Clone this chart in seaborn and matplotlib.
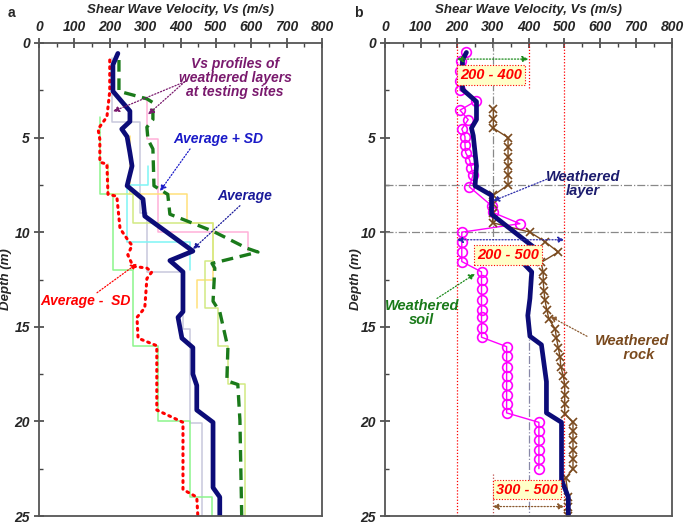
import numpy as np
import matplotlib
matplotlib.use("Agg")
import matplotlib.pyplot as plt
import seaborn as sns

# ---------------- panel a data ----------------
avg_a_vs = [223, 209, 209, 257, 257, 234, 249, 257, 263, 249, 294, 299, 435, 370, 407, 407,
            393, 404, 435, 435, 446, 446, 492, 492, 511, 511]
avg_a_d = [0.55, 1.15, 2.55, 3.6, 4.15, 4.55, 4.95, 5.8, 6.5, 7.55, 8.25, 9.15, 11.0, 11.5,
           12.1, 14.2, 14.5, 15.6, 16.1, 17.5, 18.1, 19.4, 20.05, 23.5, 24.0, 25.0]

plus_vs = [226, 226, 305, 322, 322, 305, 308, 322, 325, 364, 370, 492, 588, 619, 489, 497,
           492, 511, 534, 531, 562, 568, 573]
plus_d = [0.9, 2.55, 2.95, 3.15, 4.05, 4.45, 5.1, 5.6, 7.55, 8.0, 9.05, 9.95, 10.85, 11.05,
          11.65, 11.9, 13.65, 14.2, 16.1, 17.85, 18.05, 19.95, 25.0]

minus_vs = [200, 200, 192, 167, 172, 172, 192, 195, 220, 229, 249, 263, 251, 266, 305, 319,
            305, 299, 277, 280, 333, 333, 407, 407, 446, 449]
minus_d = [0.9, 2.55, 3.9, 4.55, 5.1, 6.3, 6.4, 8.0, 8.1, 9.8, 10.35, 10.7, 11.2, 11.8, 11.9,
           12.1, 12.45, 14.0, 14.5, 15.6, 16.0, 19.4, 20.05, 23.6, 24.0, 25.0]

# thin site profiles: layer tops, layer velocities, last bottom
site_colors = ["#c8c8dc", "#ffb0d8", "#ffe07a", "#7ff5f5", "#8cf58c", "#d2ea82"]
site_tops = [
    [0.8, 4.2, 9.0, 12.1, 15.1, 20.1],
    [3.0, 5.1, 10.0],
    [4.9, 8.0, 9.5, 12.5],
    [6.5, 7.5, 10.5],
    [3.9, 8.0, 12.0, 16.0, 20.0, 24.0],
    [6.4, 8.0, 9.5, 11.5, 14.0, 16.0, 18.0],
]
site_vs = [
    [206, 285, 305, 407, 427, 460],
    [305, 336, 590],
    [257, 418, 492, 446],
    [308, 249, 427],
    [172, 209, 266, 336, 427, 489],
    [195, 266, 492, 469, 506, 534, 582],
]
site_bottom = [25.0, 11.0, 14.0, 12.0, 25.0, 25.0]

# ---------------- panel b data ----------------
soil_vs = [227, 211, 209, 209, 209, 255, 209, 232, 214, 223, 223, 225, 236, 241, 245, 235,
           297, 300, 376, 214, 214, 214, 214, 269, 269, 269, 269, 269, 269, 269, 269,
           339, 339, 339, 339, 339, 339, 339, 339, 429, 429, 429, 429, 429, 429]
soil_d = [0.5, 0.95, 1.5, 2.0, 2.5, 3.05, 3.55, 4.05, 4.55, 4.95, 5.4, 5.8, 6.2, 6.6, 7.0, 7.6,
          8.6, 8.95, 9.55, 10.0, 10.5, 11.05, 11.55, 12.1, 12.5, 13.0, 13.6, 14.1, 14.5, 15.05, 15.55,
          16.05, 16.55, 17.1, 17.6, 18.05, 18.6, 19.1, 19.55, 20.05, 20.5, 21.0, 21.5, 22.0, 22.5]

rock_vs = [302, 302, 302, 343, 343, 343, 343, 343, 343, 302, 300, 300, 300, 404, 446, 483,
           435, 441, 441, 443, 446, 451, 457, 474, 478, 483, 488, 490, 497, 501, 501, 501, 501,
           524, 524, 524, 524, 524, 524, 504, 511, 511, 511]
rock_d = [3.5, 4.0, 4.5, 5.0, 5.5, 6.0, 6.5, 7.0, 7.5, 8.05, 8.5, 9.0, 9.5, 10.0, 10.5, 11.05,
          11.6, 12.1, 12.6, 13.1, 13.6, 14.1, 14.6, 15.1, 15.6, 16.1, 16.6, 17.1, 17.6, 18.05, 18.6,
          19.1, 19.6, 20.05, 20.5, 21.0, 21.5, 22.0, 22.5, 23.0, 24.0, 24.5, 25.0]

avg_b_vs = [227, 216, 216, 255, 255, 241, 246, 255, 251, 297, 297, 432, 381, 409, 404, 398,
            404, 436, 450, 450, 492, 492, 511, 511]
avg_b_d = [0.5, 0.9, 2.45, 3.1, 4.05, 4.5, 4.9, 6.5, 7.55, 8.05, 9.05, 11.05, 11.55, 12.1,
           13.5, 14.4, 15.5, 15.95, 17.9, 19.55, 20.05, 23.1, 24.0, 25.0]

range_labels = ["200 - 400", "200 - 500", "300 - 500"]
range_lo = [200, 200, 300]
range_hi = [400, 500, 500]
range_arrow_d = [0.85, 10.4, 24.5]
range_label_pos = [(295, 1.68), (343, 11.2), (396, 23.6)]
range_colors = ["#1a8a1a", "#2a2aa8", "#8a5a30"]

x_ticks = [0, 100, 200, 300, 400, 500, 600, 700, 800]
y_ticks = [0, 5, 10, 15, 20, 25]

# ---------------- style ----------------
sns.set_style("white")
plt.rcParams["font.family"] = ["Liberation Sans", "DejaVu Sans"]
plt.rcParams["font.weight"] = "bold"
plt.rcParams["font.style"] = "italic"

fig = plt.figure(figsize=(6.85, 5.25), dpi=100)
ax_a = fig.add_axes([39 / 685, 1 - 516 / 525, 283 / 685, 473 / 525])
ax_b = fig.add_axes([385 / 685, 1 - 516 / 525, 287 / 685, 473 / 525])

NAVY = "#0c0c78"
PURPLE = "#7a1a6e"


def setup(ax, ylab_x):
    ax.set_xlim(0, 800)
    ax.set_ylim(25, 0)
    ax.xaxis.set_label_position("top")
    ax.xaxis.tick_top()
    ax.set_xticks(x_ticks)
    ax.set_xticks(np.arange(0, 801, 50), minor=True)
    ax.set_yticks(y_ticks)
    ax.set_yticks(np.arange(0, 25.1, 2.5), minor=True)
    ax.tick_params(which="major", direction="inout", length=7, width=1.2, color="#444",
                   labelsize=10, pad=3, top=True, left=True, bottom=False, right=False)
    ax.tick_params(which="minor", direction="in", length=3, width=1, color="#444",
                   top=True, left=True, bottom=False, right=False)
    for lab in ax.get_xticklabels() + ax.get_yticklabels():
        lab.set_fontweight("bold")
        lab.set_fontstyle("italic")
    for s in ax.spines.values():
        s.set_color("#555")
        s.set_linewidth(1.3)
    ax.set_xlabel("Shear Wave Velocity, Vs (m/s)", fontsize=9.5, fontweight="bold",
                  fontstyle="italic", labelpad=5)
    ax.set_ylabel("Depth (m)", fontsize=9.5, fontweight="bold", fontstyle="italic")
    ax.yaxis.set_label_coords(ylab_x, 0.5)


def arrow(ax, xy, xytext, color, style="-|>"):
    ax.annotate("", xy=xy, xytext=xytext,
                arrowprops=dict(arrowstyle=style, color=color, lw=0.9, ls=(0, (1, 1.5)),
                                mutation_scale=9, shrinkA=0, shrinkB=0))


# ---------------- panel a ----------------
for tops, vs, bot, col in zip(site_tops, site_vs, site_bottom, site_colors):
    xs, ys = [], []
    bounds = tops[1:] + [bot]
    for t, b, v in zip(tops, bounds, vs):
        xs += [v, v]
        ys += [t, b]
    sns.lineplot(x=xs, y=ys, sort=False, estimator=None, color=col, lw=1.1, ax=ax_a)

sns.lineplot(x=minus_vs, y=minus_d, sort=False, estimator=None, color="red", lw=2.2,
             linestyle=(0, (0.6, 1.6)), dash_capstyle="round", ax=ax_a)
sns.lineplot(x=plus_vs, y=plus_d, sort=False, estimator=None, color="#1a7a1a", lw=2.4,
             linestyle=(0, (3.5, 2)), ax=ax_a)
sns.lineplot(x=avg_a_vs, y=avg_a_d, sort=False, estimator=None, color=NAVY, lw=3.4, ax=ax_a)
setup(ax_a, -0.095)

ax_a.text(554, 1.85, "Vs profiles of\nweathered layers\nat testing sites", color=PURPLE,
          fontsize=10, ha="center", va="center", linespacing=1.0)
arrow(ax_a, (209, 3.62), (412, 2.05), PURPLE)
arrow(ax_a, (308, 3.78), (412, 2.05), PURPLE)
ax_a.text(508, 5.1, "Average + SD", color="#1a1ac8", fontsize=10, ha="center", va="center")
arrow(ax_a, (342, 7.83), (427, 5.6), "#1a1ac8")
ax_a.text(582, 8.1, "Average", color="#1a1a9a", fontsize=10, ha="center", va="center")
arrow(ax_a, (435, 10.9), (568, 8.6), "#1a1a9a")
ax_a.text(130, 13.65, "Average -  SD", color="red", fontsize=10, ha="center", va="center")
arrow(ax_a, (277, 11.66), (164, 13.2), "red")

# ---------------- panel b ----------------
for xv in [200, 500]:
    ax_b.axvline(xv, color="red", lw=0.9, ls=(0, (1, 1.5)))
ax_b.plot([400, 400], [0, 2.4], color="red", lw=0.9, ls=(0, (1, 1.5)))
ax_b.plot([300, 300], [22.8, 25], color="#c0504d", lw=0.9, ls=(0, (1, 1.5)))
ax_b.plot([300, 300], [0, 10.5], color="#888", lw=0.9, ls="-.")
ax_b.plot([400, 400], [12.3, 25], color="#8888a8", lw=0.9, ls="-.")
for dv in [7.5, 10.0]:
    ax_b.axhline(dv, color="#888", lw=0.9, ls="-.")

sns.lineplot(x=soil_vs, y=soil_d, sort=False, estimator=None, color="#ff00ff", lw=1.0,
             marker="o", markersize=7, markerfacecolor="none", markeredgecolor="#ff00ff",
             markeredgewidth=1.2, ax=ax_b)
sns.lineplot(x=rock_vs, y=rock_d, sort=False, estimator=None, color="#7a4a1e", lw=1.0,
             marker="x", markersize=5.5, markeredgecolor="#7a4a1e", markeredgewidth=1.2, ax=ax_b)
sns.lineplot(x=avg_b_vs, y=avg_b_d, sort=False, estimator=None, color=NAVY, lw=3.4, ax=ax_b)
setup(ax_b, -0.08)

for lab, lo, hi, dy, pos, col in zip(range_labels, range_lo, range_hi, range_arrow_d,
                                     range_label_pos, range_colors):
    arrow(ax_b, (hi, dy), (lo, dy), col, style="<|-|>")
    ax_b.text(pos[0], pos[1], lab, color="red", fontsize=10.5, ha="center", va="center",
              bbox=dict(boxstyle="square,pad=0.2", fc="#ffffc8", ec="red", lw=0.8,
                        ls=(0, (1, 1.5))))

ax_b.text(552, 7.45, "Weathered\nlayer", color="#1c1c6e", fontsize=10.5, ha="center",
          va="center", linespacing=1.0)
arrow(ax_b, (301, 8.35), (451, 7.2), "#2a2aa8")
ax_b.text(103, 14.25, "Weathered\nsoil", color="#1a7a1a", fontsize=10.5, ha="center",
          va="center", linespacing=1.0)
arrow(ax_b, (251, 12.2), (145, 13.5), "#1a8a1a")
ax_b.text(690, 16.1, "Weathered\n   rock", color="#7a4a1e", fontsize=10.5, ha="center",
          va="center", linespacing=1.0)
arrow(ax_b, (460, 14.45), (563, 15.5), "#8a5a30")

fig.text(8 / 685, 1 - 13 / 525, "a", fontsize=10, fontweight="bold", fontstyle="normal",
         va="center")
fig.text(354 / 685, 1 - 13 / 525, "b", fontsize=10, fontweight="bold", fontstyle="normal",
         va="center")

fig.savefig("out.png", dpi=100)
